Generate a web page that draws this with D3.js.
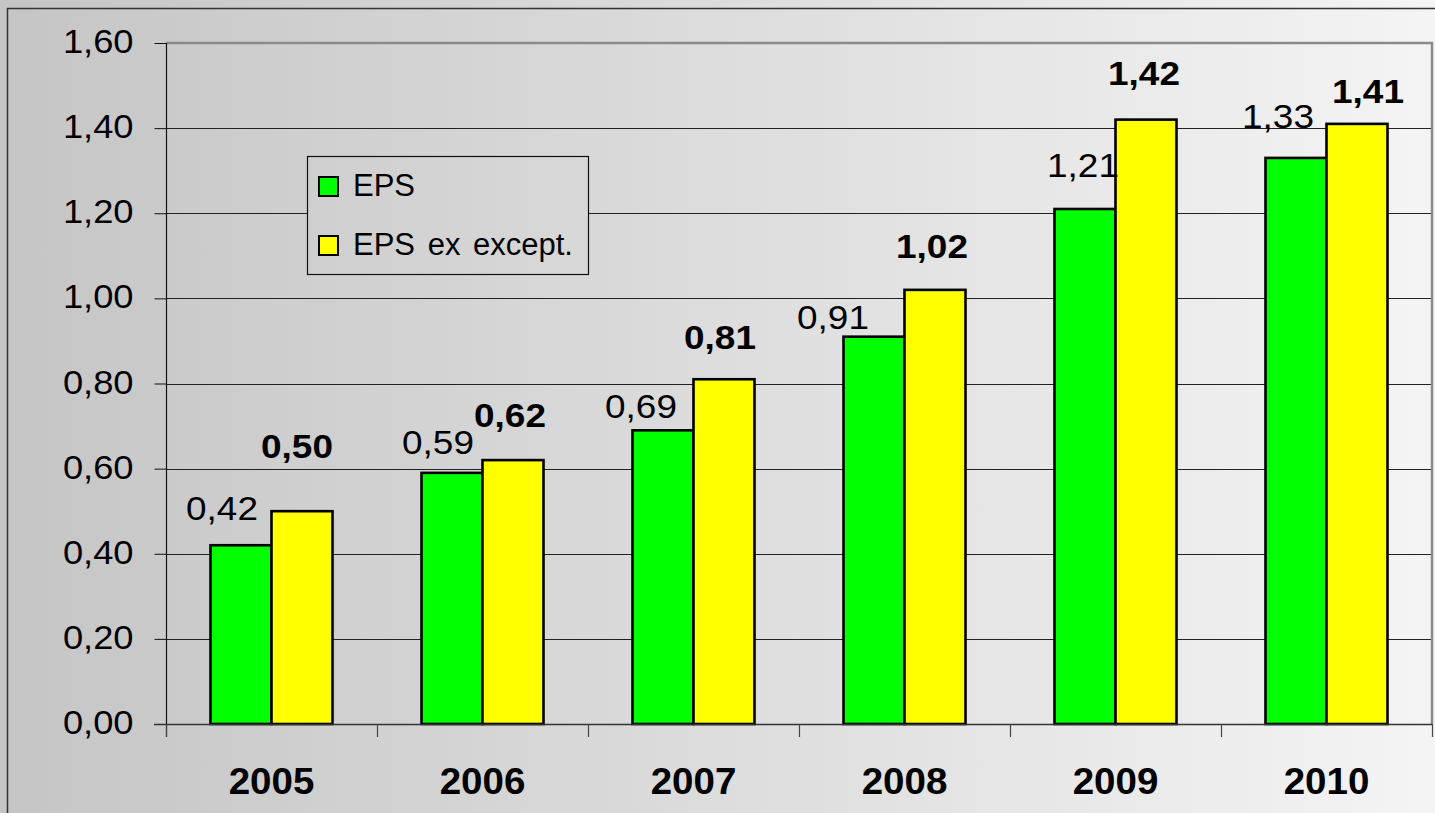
<!DOCTYPE html>
<html>
<head>
<meta charset="utf-8">
<script src="https://cdn.jsdelivr.net/npm/d3@7"></script>
<style>
  html, body { margin: 0; padding: 0; background: #dcdcdc; overflow: hidden; }
  svg { display: block; font-family: "Liberation Sans", Arial, sans-serif; }
</style>
</head>
<body>
<svg id="chart" width="1435" height="813"></svg>
<script>
// ---- data ----
const years = ["2005", "2006", "2007", "2008", "2009", "2010"];
const seriesNames = ["EPS", "EPS ex except."];
const eps = [0.42, 0.59, 0.69, 0.91, 1.21, 1.33];
const epsEx = [0.50, 0.62, 0.81, 1.02, 1.42, 1.41];
const yTicks = [0, 0.2, 0.4, 0.6, 0.8, 1.0, 1.2, 1.4, 1.6];

// ---- layout / style ----
const W = 1435, H = 813;
const plot = { left: 166, right: 1432, top: 43, bottom: 724 };
const colors = ["#00ff00", "#ffff00"];
// manual label nudges (dx, dy from bar top centre), as placed in the original
const labelNudge = [
  [[-19, -25], [-14, -19], [-22, -12], [-41, -8], [-2, -32], [-18, -30]],
  [[-5, -53], [-3, -33], [-4, -30], [-3, -32], [-2, -35], [11, -21]]
];

const locale = d3.formatLocale({ decimal: ",", thousands: ".", grouping: [3], currency: ["", "€"] });
const fmt = locale.format(".2f");

const svg = d3.select("#chart");
const defs = svg.append("defs");
const grad = defs.append("linearGradient").attr("id", "bg")
  .attr("gradientUnits", "userSpaceOnUse")
  .attr("x1", 0).attr("y1", 0).attr("x2", W).attr("y2", 0);
grad.append("stop").attr("offset", 0).attr("stop-color", "#c5c5c5");
grad.append("stop").attr("offset", 1).attr("stop-color", "#f4f4f4");

svg.append("rect").attr("width", W).attr("height", H).attr("fill", "url(#bg)");
// outer frame
svg.append("rect").attr("x", 7.5).attr("y", 8.5).attr("width", W + 20).attr("height", H + 20)
  .attr("fill", "none").attr("stroke", "#333").attr("stroke-width", 1.5);

const y = d3.scaleLinear().domain([0, 1.6]).range([plot.bottom, plot.top]);
const x0 = d3.scaleBand().domain(years).range([plot.left, plot.right]).padding(0);
const groupW = 122;
const x1 = d3.scaleBand().domain(seriesNames)
  .range([(x0.bandwidth() - groupW) / 2, (x0.bandwidth() + groupW) / 2]).padding(0);

// gridlines
svg.append("g").selectAll("line").data(yTicks.slice(1, -1)).join("line")
  .attr("x1", plot.left).attr("x2", plot.right)
  .attr("y1", d => Math.round(y(d)) + 0.5).attr("y2", d => Math.round(y(d)) + 0.5)
  .attr("stroke", "#222").attr("stroke-width", 1);

// plot area top/right border
svg.append("path")
  .attr("d", `M${plot.left},${plot.top}H${plot.right}V${plot.bottom}`)
  .attr("fill", "none").attr("stroke", "#8a8a8a").attr("stroke-width", 2.5);

// stretched text helper
function stretchedText(g, x, yy, txt, size, weight, anchor, sx) {
  return g.append("text")
    .attr("transform", `translate(${x},${yy}) scale(${sx},1)`)
    .attr("text-anchor", anchor)
    .attr("font-size", size).attr("font-weight", weight)
    .attr("fill", "#000").text(txt);
}

// y axis
const yAxis = d3.axisLeft(y).tickValues(yTicks).tickFormat(fmt).tickSize(12).tickPadding(0);
const yg = svg.append("g").attr("transform", `translate(${plot.left + 0.5},0)`).call(yAxis);
yg.select(".domain").remove();
yg.selectAll(".tick line").attr("stroke", "#111").attr("stroke-width", 1);
yg.selectAll(".tick text").remove();
yg.selectAll(".tick").each(function (d) {
  stretchedText(d3.select(this), -33, 9.5, fmt(d), 33, "normal", "end", 1.1);
});
svg.append("line").attr("x1", plot.left + 0.5).attr("x2", plot.left + 0.5)
  .attr("y1", plot.top).attr("y2", plot.bottom + 13).attr("stroke", "#111").attr("stroke-width", 1.2);

// bars
const groups = svg.append("g").selectAll("g").data(years).join("g")
  .attr("transform", d => `translate(${x0(d)},0)`);
groups.selectAll("rect")
  .data((d, i) => [eps[i], epsEx[i]].map((v, s) => ({ s, v })))
  .join("rect")
  .attr("x", d => x1(seriesNames[d.s]))
  .attr("width", x1.bandwidth())
  .attr("y", d => y(d.v))
  .attr("height", d => y(0) - y(d.v))
  .attr("fill", d => colors[d.s])
  .attr("stroke", "#000").attr("stroke-width", 2.6);

// x axis line + ticks
svg.append("line").attr("x1", plot.left - 12).attr("x2", plot.right)
  .attr("y1", plot.bottom + 0.5).attr("y2", plot.bottom + 0.5)
  .attr("stroke", "#333").attr("stroke-width", 1.5);
const xAxis = d3.axisBottom(x0).tickSize(0).tickFormat("");
const xg = svg.append("g").attr("transform", `translate(0,${plot.bottom})`).call(xAxis);
xg.select(".domain").remove();
const boundaries = years.map(d => x0(d)).concat([plot.right]);
svg.append("g").selectAll("line").data(boundaries).join("line")
  .attr("x1", d => Math.round(d) + 0.5).attr("x2", d => Math.round(d) + 0.5)
  .attr("y1", plot.bottom).attr("y2", plot.bottom + 13)
  .attr("stroke", "#444").attr("stroke-width", 1.2);
xg.selectAll(".tick").each(function (d) {
  stretchedText(d3.select(this), 0, 70, d, 36, "bold", "middle", 1.07);
});

// data labels
const lab = svg.append("g");
years.forEach((yr, i) => {
  [eps[i], epsEx[i]].forEach((v, s) => {
    const cx = x0(yr) + x1(seriesNames[s]) + x1.bandwidth() / 2;
    const [dx, dy] = labelNudge[s][i];
    stretchedText(lab, cx + dx, y(v) + dy, fmt(v), 33, s === 1 ? "bold" : "normal", "middle", 1.12);
  });
});

// legend (filled with the page gradient so gridlines are hidden behind it)
svg.append("rect").attr("x", 307.5).attr("y", 156.5).attr("width", 281).attr("height", 118)
  .attr("fill", "url(#bg)").attr("stroke", "#111").attr("stroke-width", 1.2);
const legItems = svg.append("g").selectAll("g").data(seriesNames).join("g")
  .attr("transform", (d, i) => `translate(319,${177 + i * 59})`);
legItems.append("rect").attr("width", 19).attr("height", 19)
  .attr("fill", (d, i) => colors[i]).attr("stroke", "#000").attr("stroke-width", 2);
legItems.append("text").attr("x", 34).attr("y", 19)
  .attr("font-size", 31).attr("fill", "#000").attr("word-spacing", 4).text(d => d);
</script>
</body>
</html>
